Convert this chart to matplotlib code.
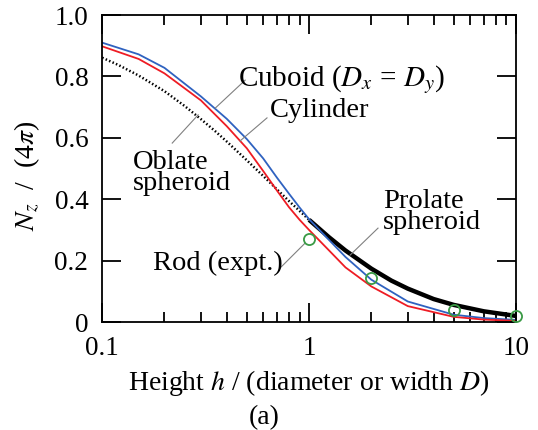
import matplotlib
matplotlib.use("Agg")
import matplotlib.pyplot as plt

# values
x_bar = [0.1, 0.15, 0.2, 0.3, 0.4, 0.5, 0.6, 0.7, 0.8, 0.9, 1.0, 1.25, 1.5, 2.0, 3.0, 5.0, 7.0, 10.0]
cuboid = [0.910, 0.872, 0.828, 0.735, 0.662, 0.596, 0.533, 0.470, 0.418, 0.373, 0.335,
          0.267, 0.212, 0.138, 0.067, 0.024, 0.013, 0.007]
cylinder = [0.898, 0.857, 0.810, 0.722, 0.638, 0.566, 0.492, 0.428, 0.374, 0.333, 0.300,
            0.233, 0.178, 0.116, 0.052, 0.017, 0.008, 0.004]

x_oblate = [0.1, 0.12, 0.15, 0.2, 0.25, 0.3, 0.35, 0.4, 0.5, 0.6, 0.7, 0.8, 0.9, 1.0]
oblate = [0.861, 0.837, 0.803, 0.752, 0.704, 0.661, 0.623, 0.588, 0.527, 0.476, 0.432,
          0.394, 0.362, 0.333]

x_prolate = [1.0, 1.25, 1.5, 2.0, 2.5, 3.0, 4.0, 5.0, 7.0, 10.0]
prolate = [0.333, 0.276, 0.233, 0.174, 0.135, 0.109, 0.075, 0.056, 0.035, 0.020]

x_rod = [1.0, 2.0, 5.0, 10.0]
rod = [0.272, 0.143, 0.040, 0.021]

plt.rcParams['font.family'] = ['Liberation Serif', 'DejaVu Serif']
plt.rcParams['mathtext.fontset'] = 'stix'

fig = plt.figure(figsize=(5.38, 4.30), dpi=100)
ax = fig.add_axes([0.19, 0.251, 0.769, 0.714])

ax.plot(x_oblate, oblate, color='black', lw=1.8, ls=(0, (0.6, 0.9)))
ax.plot(x_prolate, prolate, color='black', lw=3.2, solid_capstyle='butt')
ax.plot(x_bar, cuboid, color='#2f62c0', lw=1.3)
ax.plot(x_bar, cylinder, color='#ee1c24', lw=1.3)
ax.plot(x_rod, rod, 'o', mfc='none', mec='#3a9a45', mew=1.3, ms=8, clip_on=False, zorder=5)

ax.set_xscale('log')
ax.set_xlim(0.1, 10)
ax.set_ylim(0, 1.0)
ax.set_xticks([0.1, 1, 10])
ax.set_xticklabels(['0.1', '1', '10'])
ax.set_yticks([0, 0.2, 0.4, 0.6, 0.8, 1.0])
ax.set_yticklabels(['0', '0.2', '0.4', '0.6', '0.8', '1.0'])
ax.tick_params(which='both', direction='in', top=True, right=True, width=1.3, labelsize=19.5)
ax.tick_params(which='major', length=13.5, pad=10)
ax.tick_params(which='minor', length=7)
ax.tick_params(axis='y', which='minor', left=False, right=False)
for s in ax.spines.values():
    s.set_linewidth(1.3)

ax.set_xlabel('Height $h$ / (diameter or width $D$)', fontsize=20)
ax.xaxis.set_label_coords(0.5, -0.199)
ax.xaxis.label.set_va('center')
ax.set_ylabel('$N_z$  /  (4$\\pi$)', fontsize=20)
ax.yaxis.set_label_coords(-0.181, 0.475)
ax.yaxis.label.set_va('center')
fig.text(264 / 538, 1 - 418 / 430, '(a)', fontsize=20, ha='center', va='center')

# labels and leader lines
lead = dict(color='#808080', lw=0.8)
ax.plot([0.352, 0.491], [0.697, 0.788], **lead)
ax.plot([0.464, 0.626], [0.590, 0.665], **lead)
ax.plot([0.218, 0.291], [0.583, 0.675], **lead)
ax.plot([1.578, 2.154], [0.218, 0.306], **lead)
ax.plot([0.724, 0.956], [0.176, 0.257], **lead)

fs = 20.5
ax.text(0.454, 0.790, 'Cuboid ($D_x$ = $D_y$)', fontsize=21, va='center')
ax.text(0.648, 0.690, 'Cylinder', fontsize=fs, va='center')
ax.text(0.141, 0.485, 'Oblate\nspheroid', fontsize=fs, va='center', linespacing=0.8)
ax.text(2.278, 0.358, 'Prolate\nspheroid', fontsize=fs, va='center', linespacing=0.8)
ax.text(0.176, 0.192, 'Rod (expt.)', fontsize=fs, va='center')

fig.savefig('out.png', dpi=100)
